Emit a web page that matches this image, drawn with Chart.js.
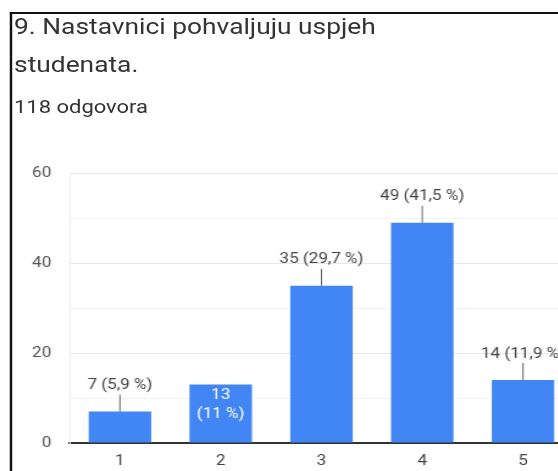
<!DOCTYPE html>
<html lang="hr">
<head>
    <meta charset="UTF-8">
    <title>9. Nastavnici pohvaljuju uspjeh studenata.</title>
    <script src="https://cdn.jsdelivr.net/npm/chart.js"></script>
    <style>
        html, body {
            margin: 0;
            padding: 0;
            width: 558px;
            height: 471px;
            overflow: hidden;
            background: #fff;
            font-family: Roboto, Arial, sans-serif;
        }
        /* the source screenshot is stretched sideways, so is this page */
        #page {
            position: absolute;
            left: 0;
            top: 0;
            width: 492px;
            height: 471px;
            transform: scaleX(1.22);
            transform-origin: 0 0;
        }
        #frame {
            position: absolute;
            left: 8px;
            top: 12px;
            width: 500px;
            height: 480px;
            border-top: 2px solid #111;
            border-left: 2.5px solid #111;
        }
        #title {
            position: absolute;
            left: 1.5px;
            top: -6px;
            width: 300px;
            font-size: 21.6px;
            line-height: 38px;
            color: #333;
        }
        #count {
            position: absolute;
            left: 1.5px;
            top: 83px;
            font-size: 18px;
            line-height: 20px;
            color: #333;
        }
        #chartBox {
            position: absolute;
            left: 0;
            top: 150px;
            width: 492px;
            height: 321px;
        }
    </style>
</head>
<body>
    <div id="page">
        <div id="frame">
            <div id="title">9. Nastavnici pohvaljuju uspjeh studenata.</div>
            <div id="count">118 odgovora</div>
        </div>
        <div id="chartBox">
            <canvas id="chart" width="492" height="321"></canvas>
        </div>
    </div>

    <script>
        const categories = ['1', '2', '3', '4', '5'];
        const counts = [7, 13, 35, 49, 14];
        const percents = ['5,9', '11', '29,7', '41,5', '11,9'];
        const yTicks = [0, 20, 40, 60];

        // bar 2 is too short for its label to sit above it
        const insideLabels = [1];

        const barLabels = {
            id: 'barLabels',
            afterDatasetsDraw(chart) {
                const ctx = chart.ctx;
                const bars = chart.getDatasetMeta(0).data;
                ctx.save();
                ctx.font = '14px Roboto, Arial, sans-serif';
                ctx.textAlign = 'center';
                ctx.textBaseline = 'middle';
                bars.forEach((bar, i) => {
                    if (insideLabels.includes(i)) {
                        ctx.fillStyle = '#ffffff';
                        ctx.fillText(String(counts[i]), bar.x, bar.y + 11);
                        ctx.fillText('(' + percents[i] + ' %)', bar.x, bar.y + 30);
                    } else {
                        ctx.strokeStyle = '#666';
                        ctx.lineWidth = 1;
                        ctx.beginPath();
                        ctx.moveTo(bar.x, bar.y);
                        ctx.lineTo(bar.x, bar.y - 17);
                        ctx.stroke();
                        ctx.fillStyle = '#444';
                        ctx.fillText(counts[i] + ' (' + percents[i] + ' %)', bar.x, bar.y - 26);
                    }
                });
                ctx.restore();
            }
        };

        new Chart(document.getElementById('chart'), {
            type: 'bar',
            data: {
                labels: categories,
                datasets: [{
                    data: counts,
                    backgroundColor: '#4285f4',
                    borderWidth: 0,
                    barPercentage: 0.62,
                    categoryPercentage: 1
                }]
            },
            options: {
                responsive: false,
                animation: false,
                layout: {
                    padding: { top: 9, right: 22, bottom: 0, left: 0 }
                },
                plugins: {
                    legend: { display: false },
                    tooltip: { enabled: false },
                    title: { display: false }
                },
                scales: {
                    x: {
                        grid: { display: false },
                        border: { color: '#333', width: 2 },
                        ticks: {
                            color: '#444',
                            padding: 2,
                            font: { family: 'Roboto', size: 14 }
                        },
                        afterFit(scale) { scale.height = 28; }
                    },
                    y: {
                        min: 0,
                        max: 60,
                        grid: {
                            drawTicks: false,
                            color: ctx => (ctx.tick.value % 20 === 0 ? '#e8e8e8' : '#f3f3f3')
                        },
                        border: { display: true, color: '#eeeeee' },
                        ticks: {
                            stepSize: 10,
                            color: '#555',
                            padding: 15,
                            font: { family: 'Roboto', size: 14 },
                            callback: v => (yTicks.includes(v) ? String(v) : '')
                        },
                        afterFit(scale) { scale.width = 57; }
                    }
                }
            },
            plugins: [barLabels]
        });
    </script>
</body>
</html>
